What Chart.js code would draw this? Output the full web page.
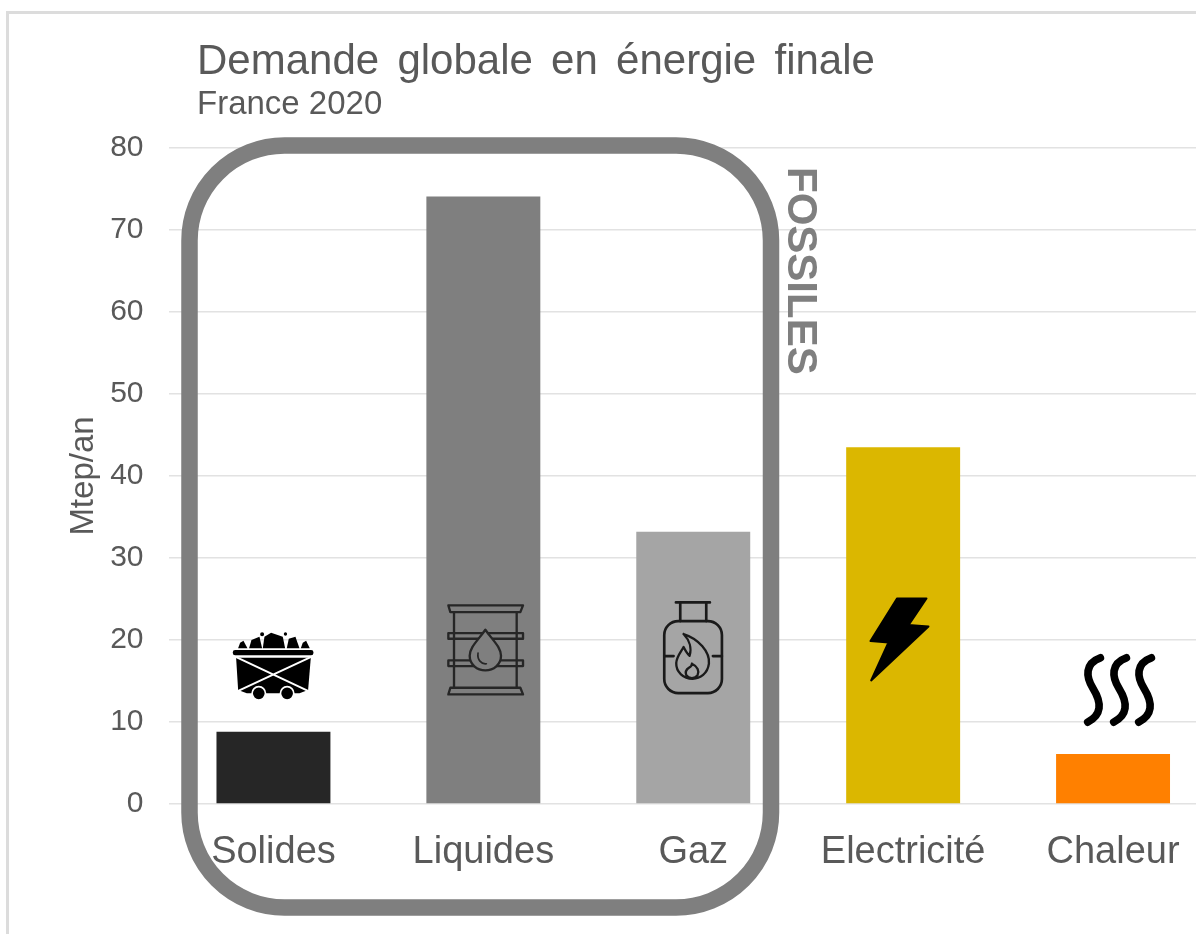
<!DOCTYPE html>
<html>
<head>
<meta charset="utf-8">
<script src="https://cdn.jsdelivr.net/npm/chart.js@4"></script>
<style>
  html, body { margin: 0; padding: 0; background: #fff; overflow: hidden; }
  #wrap { position: relative; width: 1196px; height: 934px; overflow: hidden; }
  #chart { position: absolute; left: 0; top: 0; }
</style>
</head>
<body>
<div id="wrap"><canvas id="chart" width="1218" height="934"></canvas></div>
<script>
const categories = ['Solides', 'Liquides', 'Gaz', 'Electricité', 'Chaleur'];
const demand = [8.8, 74.1, 33.2, 43.5, 6.1];
const barColors = ['#262626', '#7f7f7f', '#a5a5a5', '#dbb700', '#ff8000'];
const chartTitle = 'Demande globale en énergie finale';
const chartSubtitle = 'France 2020';
const yTitle = 'Mtep/an';
const groupLabel = 'FOSSILES';

const FONT = '"Liberation Sans", Arial, sans-serif';
const TEXT = '#595959';

// icons are traced in 3x crop units, so they get scaled down by 3 when drawn
const inCrop = (ctx, chart, i, value, cx, cy, draw) => {
    const x = chart.scales.x.getPixelForValue(i);
    const y = chart.scales.y.getPixelForValue(value);
    ctx.save();
    ctx.translate(x, y);
    ctx.scale(1 / 3, 1 / 3);
    ctx.translate(-cx, -cy);
    ctx.lineJoin = 'round';
    ctx.lineCap = 'round';
    draw();
    ctx.restore();
};

const poly = (ctx, pts) => {
    ctx.beginPath();
    pts.forEach((p, n) => n ? ctx.lineTo(p[0], p[1]) : ctx.moveTo(p[0], p[1]));
    ctx.closePath();
};

const drawCart = (ctx) => {
    ctx.fillStyle = '#000';
    const lumps = [
        [[116, 205], [122, 188], [132, 182], [144, 205]],
        [[149, 205], [156, 180], [180, 170], [188, 205]],
        [[190, 205], [195, 170], [215, 158], [250, 170], [257, 205]],
        [[262, 205], [268, 176], [288, 170], [300, 205]],
        [[304, 205], [310, 188], [320, 182], [331, 205]]
    ];
    lumps.forEach(l => { poly(ctx, l); ctx.fill(); });
    ctx.beginPath();
    ctx.arc(188, 163, 6, 0, Math.PI * 2);
    ctx.arc(258, 162, 5, 0, Math.PI * 2);
    ctx.fill();
    ctx.beginPath();
    ctx.roundRect(100, 210, 242, 16, 7);
    ctx.fill();
    poly(ctx, [[110, 233], [334, 233], [326, 330], [300, 340], [142, 340], [116, 330]]);
    ctx.fill();
    ctx.strokeStyle = '#fff';
    ctx.lineWidth = 6;
    ctx.beginPath();
    ctx.moveTo(112, 232);
    ctx.lineTo(324, 332);
    ctx.moveTo(332, 232);
    ctx.lineTo(118, 332);
    ctx.stroke();
    [178, 263].forEach(x => {
        ctx.beginPath();
        ctx.arc(x, 340, 20, 0, Math.PI * 2);
        ctx.fillStyle = '#000';
        ctx.fill();
        ctx.lineWidth = 5;
        ctx.stroke();
    });
};

const drawBarrel = (ctx) => {
    ctx.strokeStyle = '#262626';
    ctx.lineWidth = 7;
    ctx.beginPath();
    ctx.moveTo(763, 95);
    ctx.lineTo(763, 322);
    ctx.moveTo(951, 95);
    ctx.lineTo(951, 322);
    ctx.stroke();
    poly(ctx, [[746, 75], [970, 75], [962, 95], [752, 95]]);
    ctx.stroke();
    poly(ctx, [[752, 322], [962, 322], [970, 342], [746, 342]]);
    ctx.stroke();
    ctx.strokeRect(746, 158, 224, 17);
    ctx.strokeRect(746, 240, 224, 17);
    // drop sits on top of the bands
    ctx.beginPath();
    ctx.moveTo(857, 148);
    ctx.bezierCurveTo(835, 180, 810, 200, 810, 226);
    ctx.bezierCurveTo(810, 252, 832, 270, 857, 270);
    ctx.bezierCurveTo(882, 270, 904, 252, 904, 226);
    ctx.bezierCurveTo(904, 200, 879, 180, 857, 148);
    ctx.closePath();
    ctx.fillStyle = '#7f7f7f';
    ctx.fill();
    ctx.stroke();
    ctx.lineWidth = 5;
    ctx.beginPath();
    ctx.moveTo(835, 218);
    ctx.bezierCurveTo(832, 238, 845, 252, 860, 250);
    ctx.stroke();
};

const drawBottle = (ctx) => {
    ctx.strokeStyle = '#1a1a1a';
    ctx.lineWidth = 8;
    ctx.beginPath();
    ctx.moveTo(107, 66);
    ctx.lineTo(209, 66);
    ctx.moveTo(120, 66);
    ctx.lineTo(120, 122);
    ctx.moveTo(198, 66);
    ctx.lineTo(198, 122);
    ctx.moveTo(72, 227);
    ctx.lineTo(100, 227);
    ctx.moveTo(218, 227);
    ctx.lineTo(245, 227);
    ctx.stroke();
    ctx.beginPath();
    ctx.roundRect(72, 122, 173, 216, 42);
    ctx.stroke();
    ctx.lineWidth = 7;
    // outer flame
    ctx.beginPath();
    ctx.moveTo(130, 161);
    ctx.bezierCurveTo(175, 175, 210, 215, 206, 250);
    ctx.bezierCurveTo(202, 280, 180, 295, 157, 295);
    ctx.bezierCurveTo(130, 295, 107, 275, 108, 248);
    ctx.bezierCurveTo(109, 228, 122, 215, 130, 200);
    ctx.bezierCurveTo(136, 212, 140, 220, 148, 226);
    ctx.bezierCurveTo(155, 205, 148, 180, 130, 161);
    ctx.stroke();
    // inner flame
    ctx.beginPath();
    ctx.moveTo(155, 250);
    ctx.bezierCurveTo(172, 258, 178, 272, 172, 284);
    ctx.bezierCurveTo(165, 296, 145, 296, 138, 284);
    ctx.bezierCurveTo(134, 274, 140, 266, 146, 262);
    ctx.bezierCurveTo(150, 260, 155, 256, 155, 250);
    ctx.stroke();
};

const drawBolt = (ctx) => {
    ctx.fillStyle = '#000';
    ctx.strokeStyle = '#000';
    ctx.lineWidth = 6;
    poly(ctx, [[772, 54], [860, 54], [806, 134], [866, 138], [694, 300], [746, 186], [692, 182]]);
    ctx.fill();
    ctx.stroke();
};

const drawSteam = (ctx) => {
    ctx.strokeStyle = '#000';
    ctx.lineWidth = 23;
    [0, 78, 153].forEach(dx => {
        ctx.beginPath();
        ctx.moveTo(122 + dx, 53);
        ctx.bezierCurveTo(75 + dx, 70, 78 + dx, 110, 100 + dx, 145);
        ctx.bezierCurveTo(128 + dx, 190, 125 + dx, 225, 84 + dx, 246);
        ctx.stroke();
    });
};

const decorations = {
    id: 'decorations',
    afterDatasetsDraw(chart) {
        const ctx = chart.ctx;

        // page frame, left and top only
        ctx.save();
        ctx.fillStyle = '#dcdcdc';
        ctx.fillRect(6, 11, 1212, 3);
        ctx.fillRect(6, 11, 3, 923);

        // box around the fossil fuels
        ctx.strokeStyle = '#7f7f7f';
        ctx.lineWidth = 16.5;
        ctx.beginPath();
        ctx.roundRect(189.5, 145.5, 581.5, 762, 95);
        ctx.stroke();

        ctx.fillStyle = TEXT;
        ctx.textAlign = 'left';
        ctx.textBaseline = 'alphabetic';
        ctx.font = '42px ' + FONT;
        ctx.wordSpacing = '6.6px';
        ctx.fillText(chartTitle, 197, 74);
        ctx.wordSpacing = '0px';
        ctx.font = '33px ' + FONT;
        ctx.fillText(chartSubtitle, 197, 114);

        ctx.save();
        ctx.translate(788, 167);
        ctx.rotate(Math.PI / 2);
        ctx.font = 'bold 42px ' + FONT;
        ctx.fillStyle = '#7f7f7f';
        ctx.fillText(groupLabel, 0, 0);
        ctx.restore();
        ctx.restore();

        inCrop(ctx, chart, 0, 16.95, 222, 255, () => drawCart(ctx));
        inCrop(ctx, chart, 1, 18, 851, 228, () => drawBarrel(ctx));
        inCrop(ctx, chart, 2, 18, 159, 228, () => drawBottle(ctx));
        inCrop(ctx, chart, 3, 18, 790, 228, () => drawBolt(ctx));
        inCrop(ctx, chart, 4, 14.7, 160, 130, () => drawSteam(ctx));
    }
};

new Chart(document.getElementById('chart'), {
    type: 'bar',
    data: {
        labels: categories,
        datasets: [{
            data: demand,
            backgroundColor: barColors,
            barPercentage: 114 / 210,
            categoryPercentage: 1
        }]
    },
    options: {
        responsive: false,
        animation: false,
        layout: { padding: { top: 148, left: 0, right: 0, bottom: 0 } },
        plugins: { legend: { display: false }, title: { display: false }, tooltip: { enabled: false } },
        scales: {
            x: {
                grid: { display: false },
                border: { display: false },
                ticks: {
                    color: TEXT,
                    font: { family: FONT, size: 38 },
                    padding: 18,
                    maxRotation: 0,
                    autoSkip: false
                },
                afterFit: (scale) => { scale.height = 130; }
            },
            y: {
                min: 0,
                max: 80,
                grid: { color: '#e2e2e2', lineWidth: 1.5, drawTicks: false },
                border: { display: false },
                ticks: {
                    stepSize: 10,
                    color: TEXT,
                    font: { family: FONT, size: 30 },
                    padding: 25
                },
                title: {
                    display: true,
                    text: yTitle,
                    color: TEXT,
                    font: { family: FONT, size: 33 },
                    padding: { top: 64, bottom: 0 }
                },
                afterFit: (scale) => { scale.width = 168.5; }
            }
        }
    },
    plugins: [decorations]
});
</script>
</body>
</html>
